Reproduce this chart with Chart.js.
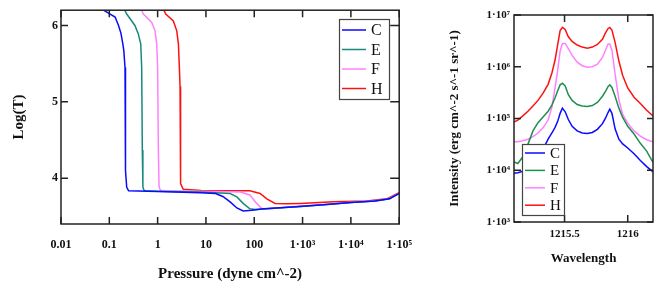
<!DOCTYPE html>
<html>
<head>
<meta charset="utf-8">
<script src="https://cdn.jsdelivr.net/npm/chart.js@4"></script>
<style>
  body { margin: 0; background: #fff; }
  #left { position: absolute; left: 0; top: 0; }
  #right { position: absolute; left: 430px; top: 0; }
</style>
</head>
<body>
<canvas id="left" width="426" height="284"></canvas>
<canvas id="right" width="224" height="284"></canvas>
<script>
// ---- left panel: temperature vs pressure (log10 of pressure, log10 of T) ----
const seriesNames = ['C', 'E', 'F', 'H'];

const pressureTicks = [0.01, 0.1, 1, 10, 100, 1e3, 1e4, 1e5];
const pressureLabels = ['0.01', '0.1', '1', '10', '100', '1\u00b710\u00b3', '1\u00b710\u2074', '1\u00b710\u2075'];
const logTTicks = [4, 5, 6];

const cLogP = [-1.12, -0.88, -0.81, -0.76, -0.72, -0.70, -0.675, -0.67, -0.66, -0.64, -0.60, 0.0, 0.88, 1.2, 1.35, 1.5, 1.64, 1.77, 1.95, 2.2, 2.95, 3.5, 4.0, 4.5, 4.8, 5.0];
const cLogT = [6.2, 6.11, 6.0, 5.90, 5.76, 5.67, 5.45, 4.5, 4.1, 3.88, 3.835, 3.825, 3.81, 3.80, 3.76, 3.69, 3.61, 3.57, 3.58, 3.60, 3.63, 3.655, 3.68, 3.70, 3.73, 3.80];

const eLogP = [-0.68, -0.64, -0.47, -0.40, -0.35, -0.33, -0.317, -0.305, -0.29, -0.26, 0.0, 0.88, 1.5, 1.64, 1.77, 1.91, 2.02, 2.26, 2.95, 3.5, 4.0, 4.5, 4.8, 5.0];
const eLogT = [6.2, 6.15, 6.0, 5.89, 5.76, 5.45, 4.37, 3.89, 3.85, 3.835, 3.83, 3.82, 3.80, 3.755, 3.67, 3.60, 3.59, 3.60, 3.63, 3.655, 3.68, 3.70, 3.73, 3.80];

const fLogP = [-0.33, -0.296, -0.122, -0.054, -0.019, 0.0, 0.015, 0.03, 0.05, 0.085, 0.9, 1.71, 1.91, 2.05, 2.16, 2.3, 2.95, 3.5, 4.0, 4.5, 4.8, 5.0];
const fLogT = [6.2, 6.15, 6.04, 5.93, 5.76, 5.45, 4.37, 3.89, 3.85, 3.835, 3.83, 3.82, 3.78, 3.67, 3.60, 3.60, 3.635, 3.66, 3.685, 3.705, 3.735, 3.80];

const hLogP = [0.13, 0.168, 0.325, 0.396, 0.43, 0.45, 0.464, 0.47, 0.48, 0.53, 0.9, 1.91, 2.12, 2.26, 2.43, 2.67, 2.95, 3.64, 4.33, 4.74, 5.0];
const hLogT = [6.2, 6.15, 6.06, 5.93, 5.76, 5.45, 5.2, 4.2, 3.93, 3.855, 3.84, 3.835, 3.80, 3.73, 3.67, 3.665, 3.67, 3.69, 3.70, 3.73, 3.81];

// ---- right panel: line profile (wavelength, log10 of intensity) ----
const wavelength = [1215.10, 1215.13, 1215.17, 1215.21, 1215.25, 1215.29, 1215.33, 1215.37, 1215.40, 1215.425, 1215.445, 1215.465, 1215.483, 1215.505, 1215.53, 1215.56, 1215.60, 1215.64, 1215.68, 1215.72, 1215.76, 1215.80, 1215.825, 1215.845, 1215.858, 1215.875, 1215.90, 1215.93, 1215.96, 1216.00, 1216.05, 1216.10, 1216.15, 1216.20];
const cLogI = [3.94, 3.95, 3.98, 4.04, 4.14, 4.27, 4.41, 4.60, 4.72, 4.83, 4.94, 5.10, 5.20, 5.13, 4.98, 4.85, 4.76, 4.72, 4.71, 4.73, 4.79, 4.90, 5.01, 5.12, 5.18, 5.10, 4.80, 4.60, 4.51, 4.43, 4.32, 4.19, 4.07, 3.97];
const eLogI = [4.16, 4.13, 4.26, 4.50, 4.76, 4.92, 5.03, 5.14, 5.26, 5.40, 5.53, 5.65, 5.68, 5.63, 5.46, 5.35, 5.27, 5.24, 5.23, 5.25, 5.31, 5.43, 5.53, 5.62, 5.65, 5.60, 5.43, 5.20, 5.02, 4.85, 4.70, 4.52, 4.37, 4.15];
const fLogI = [4.55, 4.55, 4.57, 4.60, 4.65, 4.72, 4.82, 4.97, 5.22, 5.59, 5.92, 6.30, 6.45, 6.45, 6.35, 6.22, 6.09, 6.02, 5.99, 6.00, 6.05, 6.18, 6.33, 6.44, 6.44, 6.32, 5.86, 5.36, 5.08, 4.91, 4.76, 4.66, 4.59, 4.55];
const hLogI = [4.93, 4.97, 5.05, 5.14, 5.24, 5.35, 5.49, 5.66, 5.88, 6.13, 6.42, 6.70, 6.76, 6.72, 6.58, 6.49, 6.42, 6.38, 6.36, 6.38, 6.43, 6.53, 6.66, 6.74, 6.76, 6.71, 6.47, 6.11, 5.83, 5.59, 5.41, 5.29, 5.16, 5.05];

const intensityTicks = [1e3, 1e4, 1e5, 1e6, 1e7];
const intensityLabels = ['1\u00b710\u00b3', '1\u00b710\u2074', '1\u00b710\u2075', '1\u00b710\u2076', '1\u00b710\u2077'];
const wavelengthTicks = [1215.5, 1216];
const wavelengthLabels = ['1215.5', '1216'];

const serif = 'Liberation Serif, Times New Roman, serif';
const tickFont = { family: serif, size: 12, weight: 'bold' };

function pts(xs, ys) {
    return xs.map((v, i) => ({ x: Math.pow(10, v), y: ys[i] }));
}
function ptsLogY(xs, ys) {
    return xs.map((v, i) => ({ x: v, y: Math.pow(10, ys[i]) }));
}
function lineSet(label, color, data) {
    return { label: label, data: data, borderColor: color, backgroundColor: color, borderWidth: 1.5, pointRadius: 0, tension: 0, fill: false };
}

// frame + inward tick marks on all four sides
const frameTicks = {
    id: 'frameTicks',
    afterDatasetsDraw(chart, args, o) {
        const { ctx, chartArea: a } = chart;
        const sx = chart.scales.x, sy = chart.scales.y;
        ctx.save();
        ctx.strokeStyle = '#222';
        ctx.lineWidth = 1.5;
        ctx.strokeRect(a.left, a.top, a.right - a.left, a.bottom - a.top);
        ctx.beginPath();
        sx.ticks.forEach(t => {
            const px = sx.getPixelForValue(t.value);
            ctx.moveTo(px, a.bottom); ctx.lineTo(px, a.bottom - o.len);
            ctx.moveTo(px, a.top); ctx.lineTo(px, a.top + o.len);
        });
        sy.ticks.forEach(t => {
            const py = sy.getPixelForValue(t.value);
            ctx.moveTo(a.left, py); ctx.lineTo(a.left + o.len, py);
            ctx.moveTo(a.right, py); ctx.lineTo(a.right - o.rlen, py);
        });
        ctx.stroke();
        ctx.restore();
    }
};

// boxed legend placed by hand like the original
const boxLegend = {
    id: 'boxLegend',
    afterDraw(chart, args, o) {
        const ctx = chart.ctx;
        ctx.save();
        ctx.fillStyle = '#fff';
        ctx.fillRect(o.x, o.y, o.w, o.h);
        ctx.strokeStyle = '#444';
        ctx.lineWidth = 1.2;
        ctx.strokeRect(o.x + 0.5, o.y + 0.5, o.w, o.h);
        ctx.font = o.font;
        ctx.textBaseline = 'middle';
        chart.data.datasets.forEach((ds, i) => {
            const ly = o.y + o.first + i * o.step;
            ctx.strokeStyle = ds.borderColor;
            ctx.lineWidth = 1.5;
            ctx.beginPath();
            ctx.moveTo(o.x + 3, ly);
            ctx.lineTo(o.x + 3 + o.line, ly);
            ctx.stroke();
            ctx.fillStyle = '#111';
            ctx.fillText(ds.label, o.x + o.textX, ly + 1);
        });
        ctx.restore();
    }
};

const leftChart = new Chart(document.getElementById('left'), {
    type: 'line',
    data: {
        datasets: [
            lineSet(seriesNames[0], '#0a0aff', pts(cLogP, cLogT)),
            lineSet(seriesNames[1], '#178a7e', pts(eLogP, eLogT)),
            lineSet(seriesNames[2], '#ff80ff', pts(fLogP, fLogT)),
            lineSet(seriesNames[3], '#ff1010', pts(hLogP, hLogT))
        ]
    },
    options: {
        responsive: false,
        animation: false,
        layout: { padding: { top: 10, right: 21, left: 0, bottom: 0 } },
        plugins: {
            legend: { display: false },
            tooltip: { enabled: false },
            frameTicks: { len: 7, rlen: 9 },
            boxLegend: { x: 339, y: 19, w: 50, h: 80, first: 11, step: 19.5, line: 24, textX: 32, font: '16px ' + serif }
        },
        scales: {
            x: {
                type: 'logarithmic',
                min: 0.01,
                max: 1e5,
                afterFit: s => { s.height = 60; },
                afterBuildTicks: s => { s.ticks = pressureTicks.map(v => ({ value: v })); },
                grid: { display: false, drawTicks: false },
                border: { display: false },
                ticks: { font: tickFont, color: '#111', padding: 14, maxRotation: 0, autoSkip: false,
                    callback: (v, i) => pressureLabels[i] },
                title: { display: true, text: 'Pressure (dyne cm^-2)', color: '#111',
                    font: { family: serif, size: 15, weight: 'bold' }, padding: { top: 0, bottom: 1 } }
            },
            y: {
                min: 3.4,
                max: 6.2,
                afterFit: s => { s.width = 61; },
                afterBuildTicks: s => { s.ticks = logTTicks.map(v => ({ value: v })); },
                grid: { display: false, drawTicks: false },
                border: { display: false },
                ticks: { font: tickFont, color: '#111', padding: 3, callback: v => String(v) },
                title: { display: true, text: 'Log(T)', color: '#111',
                    font: { family: serif, size: 15, weight: 'bold' }, padding: { top: 10, bottom: 0 } }
            }
        }
    },
    plugins: [frameTicks, boxLegend]
});

const rightChart = new Chart(document.getElementById('right'), {
    type: 'line',
    data: {
        datasets: [
            lineSet(seriesNames[0], '#0a0aff', ptsLogY(wavelength, cLogI)),
            lineSet(seriesNames[1], '#1f8f4f', ptsLogY(wavelength, eLogI)),
            lineSet(seriesNames[2], '#ff80ff', ptsLogY(wavelength, fLogI)),
            lineSet(seriesNames[3], '#ff1010', ptsLogY(wavelength, hLogI))
        ]
    },
    options: {
        responsive: false,
        animation: false,
        layout: { padding: { top: 15, right: 1, left: 0, bottom: 0 } },
        plugins: {
            legend: { display: false },
            tooltip: { enabled: false },
            frameTicks: { len: 7, rlen: 6 },
            boxLegend: { x: 92, y: 144, w: 42, h: 71, first: 9, step: 17.4, line: 20, textX: 28, font: '15px ' + serif }
        },
        scales: {
            x: {
                type: 'linear',
                min: 1215.1,
                max: 1216.2,
                afterFit: s => { s.height = 62; },
                afterBuildTicks: s => { s.ticks = wavelengthTicks.map(v => ({ value: v })); },
                grid: { display: false, drawTicks: false },
                border: { display: false },
                ticks: { font: { family: serif, size: 11, weight: 'bold' }, color: '#111', padding: 6, maxRotation: 0, autoSkip: false,
                    callback: (v, i) => wavelengthLabels[i] },
                title: { display: true, text: 'Wavelength', color: '#111',
                    font: { family: serif, size: 13, weight: 'bold' }, padding: { top: 0, bottom: 18 } }
            },
            y: {
                type: 'logarithmic',
                min: 1e3,
                max: 1e7,
                afterFit: s => { s.width = 84; },
                afterBuildTicks: s => { s.ticks = intensityTicks.map(v => ({ value: v })); },
                grid: { display: false, drawTicks: false },
                border: { display: false },
                ticks: { font: { family: serif, size: 11, weight: 'bold' }, color: '#111', padding: 4,
                    callback: (v, i) => intensityLabels[i] },
                title: { display: true, text: 'Intensity (erg cm^-2 s^-1 sr^-1)', color: '#111',
                    font: { family: serif, size: 13, weight: 'bold' }, padding: { top: 17, bottom: 0 } }
            }
        }
    },
    plugins: [frameTicks, boxLegend]
});
</script>
</body>
</html>
